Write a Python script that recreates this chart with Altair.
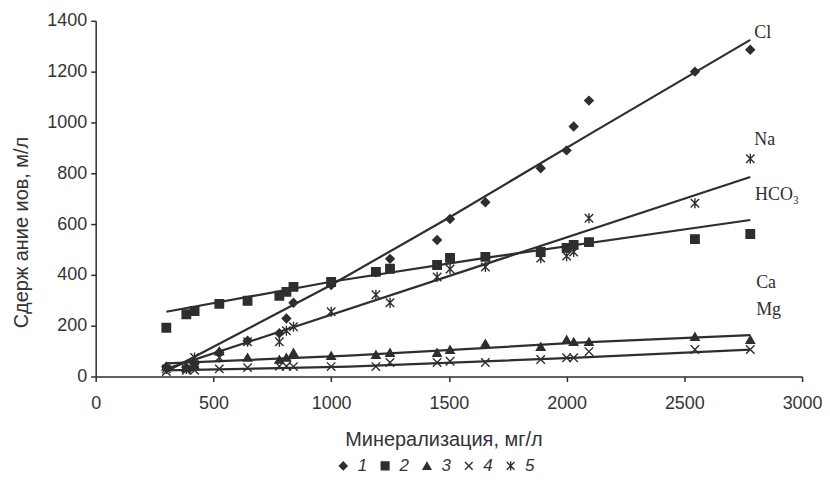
import altair as alt
import pandas as pd

# Mineralization (x) of each sample, mg/l
mineral = [300, 385, 420, 525, 645, 780, 810, 840, 1000, 1190, 1250, 1450, 1505, 1655, 1890, 2000, 2030, 2095, 2545, 2780]
# Ion contents
cl = [38, 35, 50, 95, 141, 170, 228, 290, 360, 410, 463, 537, 620, 686, 820, 890, 984, 1086, 1200, 1286]
hco3 = [192, 245, 258, 286, 298, 318, 333, 353, 372, 412, 424, 439, 467, 471, 490, 506, 518, 529, 541, 561]
ca = [40, 35, 45, 100, 75, 67, 75, 94, 82, 86, 94, 94, 106, 130, 118, 145, 137, 137, 157, 145]
mg = [20, 25, 25, 30, 35, 40, 40, 39, 39, 39, 55, 55, 60, 55, 67, 74, 74, 98, 106, 106]
na = [30, 30, 75, 75, 137, 137, 180, 196, 255, 322, 290, 392, 423, 431, 466, 474, 490, 623, 682, 857]

series_ids = ["1", "2", "3", "4", "5"]
series_vals = [cl, hco3, ca, mg, na]

# Trend lines
cl_tx, cl_ty = [300, 1000, 1500, 2100, 2780], [20, 360, 625, 955, 1325]
hco3_tx, hco3_ty = [300, 1000, 1655, 2780], [255, 373, 467, 616]
ca_tx, ca_ty = [300, 1075, 2048, 2780], [52, 82, 133, 163]
mg_tx, mg_ty = [300, 1075, 2048, 2780], [24, 39, 74, 106]
na_tx, na_ty = [300, 2780], [30, 785]

# Right-hand labels
label_text = ["Cl", "Na", "HCO₃", "Ca", "Mg"]
label_x = [2797, 2797, 2800, 2805, 2805]
label_y = [1353, 929, 714, 369, 263]

rows = []
for sid, vals in zip(series_ids, series_vals):
    for xv, yv in zip(mineral, vals):
        rows.append({"x": xv, "y": yv, "s": sid})
pts = pd.DataFrame(rows)

trows = []
for sid, (tx, ty) in zip(series_ids,
                         [(cl_tx, cl_ty), (hco3_tx, hco3_ty), (ca_tx, ca_ty), (mg_tx, mg_ty), (na_tx, na_ty)]):
    for xv, yv in zip(tx, ty):
        trows.append({"x": xv, "y": yv, "s": sid})
trend = pd.DataFrame(trows)

labels = pd.DataFrame({"t": label_text, "x": label_x, "y": label_y})

INK = "#2e2e2e"
xscale = alt.Scale(domain=[0, 3000], nice=False)
yscale = alt.Scale(domain=[0, 1400], nice=False)

cross = "M-1,-1L1,1M1,-1L-1,1"
star = "M-1,-1L1,1M1,-1L-1,1M0,-1.2L0,1.2"

xaxis = alt.Axis(values=[0, 500, 1000, 1500, 2000, 2500, 3000], format="d", title="Минерализация, мг/л",
                 grid=False, tickSize=5, labelPadding=13, labelFlush=False, titleX=349, titleY=63,
                 titleBaseline="middle", titleAlign="center")
yaxis = alt.Axis(values=[0, 200, 400, 600, 800, 1000, 1200, 1400], format="d", title="Сдерж ание иов, м/л",
                 grid=False, tickSize=5, labelPadding=4, titleX=-74, titleY=212,
                 titleAngle=270, titleBaseline="middle", titleAlign="center")

legend_cfg = dict(title=None, orient="none", direction="horizontal",
                  legendX=240, legendY=438, labelFontStyle="italic",
                  labelFontSize=17, labelFont="Liberation Sans",
                  labelColor="#333", symbolSize=60, symbolFillColor=INK,
                  symbolStrokeColor=INK, symbolStrokeWidth=1.4,
                  columnPadding=9, labelOffset=6)

lines = alt.Chart(trend).mark_line(color=INK, strokeWidth=2.2).encode(
    x=alt.X("x:Q", scale=xscale, axis=xaxis),
    y=alt.Y("y:Q", scale=yscale, axis=yaxis),
    detail="s:N",
)

points = alt.Chart(pts).mark_point(filled=True, fill=INK, strokeWidth=1.4, opacity=1, size=72).encode(
    x=alt.X("x:Q", scale=xscale),
    y=alt.Y("y:Q", scale=yscale),
    shape=alt.Shape("s:N", scale=alt.Scale(domain=series_ids,
                                           range=["diamond", "square", "triangle-up", cross, star]),
                    legend=alt.Legend(**legend_cfg)),
    stroke=alt.Stroke("s:N", scale=alt.Scale(domain=series_ids, range=[INK] * 5),
                      legend=alt.Legend(**legend_cfg)),
)

texts = alt.Chart(labels).mark_text(font="Liberation Serif", fontSize=18, align="left",
                                    baseline="middle", color=INK).encode(
    x=alt.X("x:Q", scale=xscale),
    y=alt.Y("y:Q", scale=yscale),
    text="t:N",
)

chart = alt.layer(lines, points, texts).properties(
    width=709, height=357,
    autosize=alt.AutoSizeParams(type="none"),
    padding={"left": 88, "top": 12, "right": 20, "bottom": 100},
).configure_view(stroke=None).configure_axis(
    labelFont="Liberation Sans", labelFontSize=18, labelColor="#333",
    titleFont="Liberation Sans", titleFontSize=20, titleFontWeight="normal", titleColor="#333",
    domainColor=INK, tickColor=INK, domainWidth=1.5, tickWidth=1.5,
)

chart.save("out.html", embed_options={"renderer": "svg", "actions": False})
